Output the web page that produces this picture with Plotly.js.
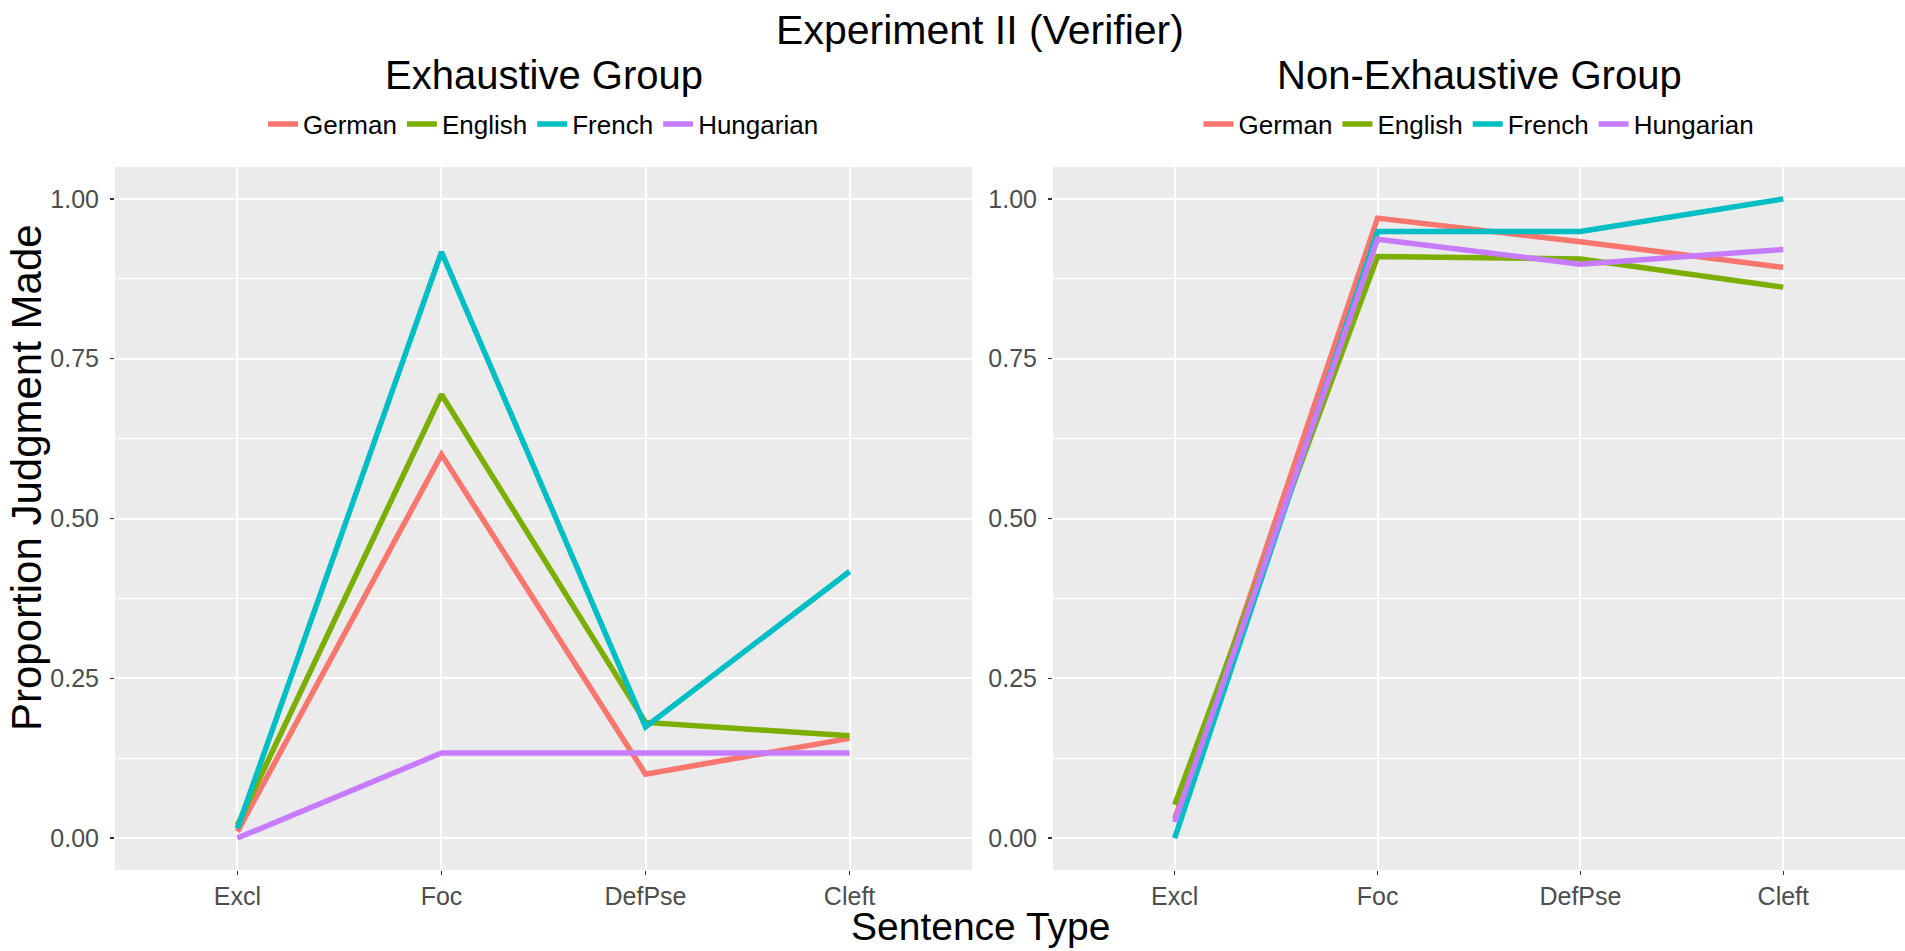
<!DOCTYPE html>
<html>
<head>
<meta charset="utf-8">
<script src="https://cdn.plot.ly/plotly-3.0.1.min.js"></script>
<style>
  html, body { margin: 0; padding: 0; background: #ffffff; }
  #chart { width: 1905px; height: 951px; }
</style>
</head>
<body>
<div id="chart"></div>
<script>
// Sentence types on the x axis
const sentenceTypes = ["Excl", "Foc", "DefPse", "Cleft"];
const languages = ["German", "English", "French", "Hungarian"];
const languageColors = ["#F8766D", "#7CAE00", "#00BFC4", "#C77CFF"];

// Proportion of judgments made: exhaustive group
const exhGerman    = [0.010, 0.600, 0.100, 0.156];
const exhEnglish   = [0.020, 0.694, 0.181, 0.160];
const exhFrench    = [0.015, 0.917, 0.174, 0.417];
const exhHungarian = [0.000, 0.133, 0.133, 0.133];

// Proportion of judgments made: non-exhaustive group
const nonGerman    = [0.030, 0.970, 0.933, 0.893];
const nonEnglish   = [0.052, 0.910, 0.906, 0.862];
const nonFrench    = [0.000, 0.949, 0.949, 1.000];
const nonHungarian = [0.025, 0.937, 0.898, 0.921];

const yTickVals = [0, 0.25, 0.5, 0.75, 1];
const yTickText = ["0.00", "0.25", "0.50", "0.75", "1.00"];

const FONT = "Liberation Sans, Arial, Helvetica, sans-serif";

const exhSeries = [exhGerman, exhEnglish, exhFrench, exhHungarian];
const nonSeries = [nonGerman, nonEnglish, nonFrench, nonHungarian];

const traces = [];
exhSeries.forEach((vals, i) => {
  traces.push({
    type: "scatter", mode: "lines",
    x: sentenceTypes, y: vals,
    name: languages[i],
    line: { color: languageColors[i], width: 5.5 },
    xaxis: "x", yaxis: "y",
    legend: "legend",
    hoverinfo: "x+y+name"
  });
});
nonSeries.forEach((vals, i) => {
  traces.push({
    type: "scatter", mode: "lines",
    x: sentenceTypes, y: vals,
    name: languages[i],
    line: { color: languageColors[i], width: 5.5 },
    xaxis: "x2", yaxis: "y2",
    legend: "legend2",
    hoverinfo: "x+y+name"
  });
});

const xCommon = {
  type: "category",
  categoryorder: "array",
  categoryarray: sentenceTypes,
  range: [-0.6, 3.6],
  showgrid: true, gridcolor: "#ffffff", gridwidth: 2,
  zeroline: false, showline: false,
  ticks: "outside", ticklen: 4, tickwidth: 1.5, tickcolor: "#333333",
  ticklabelstandoff: 0,
  tickfont: { family: FONT, size: 25, color: "#4D4D4D" },
  automargin: false, fixedrange: true
};
const yCommon = {
  range: [-0.05, 1.05],
  tickvals: yTickVals, ticktext: yTickText,
  showgrid: true, gridcolor: "#ffffff", gridwidth: 2,
  minor: { tick0: 0.125, dtick: 0.25, showgrid: true, gridcolor: "#ffffff", gridwidth: 1, ticks: "" },
  zeroline: false, showline: false,
  ticks: "outside", ticklen: 4, tickwidth: 1.5, tickcolor: "#333333",
  ticklabelstandoff: 6,
  tickfont: { family: FONT, size: 25, color: "#4D4D4D" },
  automargin: false, fixedrange: true
};

const yDomain = [1 - 870 / 951, 1 - 167 / 951];
const leftDomain = [115 / 1905, 972 / 1905];
const rightDomain = [1053 / 1905, 1];

const legendCommon = {
  orientation: "h",
  xanchor: "center", yanchor: "middle",
  y: 1 - 124 / 951,
  font: { family: FONT, size: 26, color: "#000000" },
  bgcolor: "rgba(0,0,0,0)",
  itemclick: false, itemdoubleclick: false,
  tracegroupgap: 0
};

const layout = {
  width: 1905, height: 951,
  paper_bgcolor: "#ffffff",
  plot_bgcolor: "#EBEBEB",
  margin: { l: 0, r: 0, t: 0, b: 0 },
  font: { family: FONT },
  title: {
    text: "Experiment II (Verifier)",
    font: { family: FONT, size: 41, color: "#000000" },
    x: 980 / 1905, xanchor: "center",
    y: 1 - 30 / 951, yanchor: "middle",
    xref: "paper", yref: "paper"
  },
  xaxis: Object.assign({}, xCommon, { domain: leftDomain, anchor: "y" }),
  yaxis: Object.assign({}, yCommon, { domain: yDomain, anchor: "x" }),
  xaxis2: Object.assign({}, xCommon, { domain: rightDomain, anchor: "y2" }),
  yaxis2: Object.assign({}, yCommon, { domain: yDomain, anchor: "x2" }),
  legend: Object.assign({}, legendCommon, { x: (leftDomain[0] + leftDomain[1]) / 2 }),
  legend2: Object.assign({}, legendCommon, { x: (rightDomain[0] + rightDomain[1]) / 2 }),
  annotations: [
    { text: "Exhaustive Group", xref: "paper", yref: "paper",
      x: (leftDomain[0] + leftDomain[1]) / 2, y: 1 - 75 / 951,
      xanchor: "center", yanchor: "middle", showarrow: false,
      font: { family: FONT, size: 40, color: "#000000" } },
    { text: "Non-Exhaustive Group", xref: "paper", yref: "paper",
      x: (rightDomain[0] + rightDomain[1]) / 2, y: 1 - 75 / 951,
      xanchor: "center", yanchor: "middle", showarrow: false,
      font: { family: FONT, size: 40, color: "#000000" } },
    { text: "Proportion Judgment Made", xref: "paper", yref: "paper",
      x: 26 / 1905, y: 1 - 478 / 951, textangle: -90,
      xanchor: "center", yanchor: "middle", showarrow: false,
      font: { family: FONT, size: 42, color: "#000000" } },
    { text: "Sentence Type", xref: "paper", yref: "paper",
      x: 981 / 1905, y: 1 - 926 / 951,
      xanchor: "center", yanchor: "middle", showarrow: false,
      font: { family: FONT, size: 39, color: "#000000" } }
  ],
  showlegend: true
};

Plotly.newPlot("chart", traces, layout, { displayModeBar: false, staticPlot: true });
</script>
</body>
</html>
